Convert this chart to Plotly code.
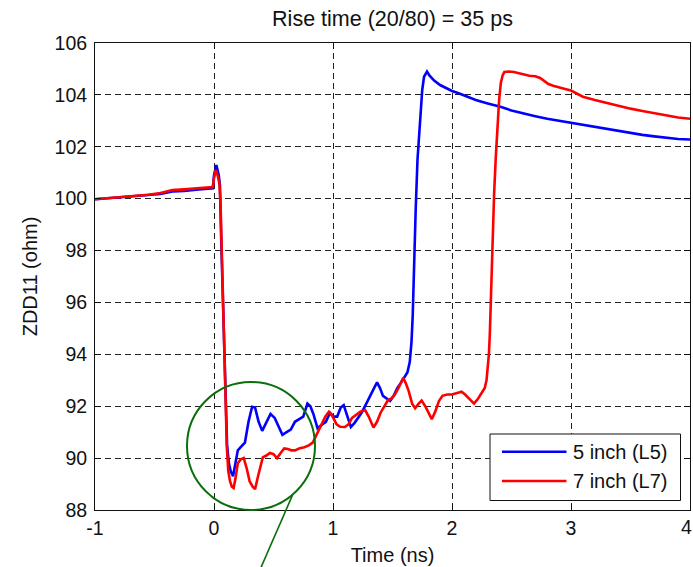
import plotly.graph_objects as go

# ---- data ----
t_l5 = [-1.0, -0.85, -0.7, -0.55, -0.45, -0.35, -0.25, -0.15, -0.05, -0.01, 0.0, 0.02, 0.04, 0.05,
        0.06, 0.075, 0.09, 0.1, 0.11, 0.125, 0.14, 0.16, 0.18, 0.2, 0.23, 0.26, 0.29, 0.32, 0.345,
        0.375, 0.405, 0.44, 0.475, 0.51, 0.545, 0.575, 0.61, 0.645, 0.68, 0.72, 0.75, 0.785, 0.81,
        0.835, 0.87, 0.91, 0.94, 0.975, 1.005, 1.035, 1.065, 1.09, 1.12, 1.15, 1.18, 1.21, 1.24,
        1.28, 1.31, 1.345, 1.37, 1.395, 1.42, 1.45, 1.48, 1.51, 1.54, 1.57, 1.6, 1.625, 1.645,
        1.66, 1.67, 1.68, 1.695, 1.71, 1.73, 1.75, 1.765, 1.79, 1.81, 1.85, 1.9, 1.95, 2.0, 2.05,
        2.1, 2.15, 2.2, 2.3, 2.4, 2.5, 2.6, 2.7, 2.8, 2.9, 3.0, 3.1, 3.2, 3.3, 3.4, 3.5, 3.6, 3.7,
        3.8, 3.9, 4.0]
z_l5 = [99.98, 100.03, 100.08, 100.12, 100.18, 100.28, 100.3, 100.35, 100.38, 100.4, 100.9, 101.3,
        100.9, 100.5, 98.5, 96.0, 93.5, 91.5, 90.5, 89.8, 89.5, 89.3, 89.8, 90.3, 90.45, 90.6,
        91.4, 91.98, 91.95, 91.4, 91.05, 91.4, 91.7, 91.55, 91.2, 90.9, 91.0, 91.1, 91.4, 91.5,
        91.6, 92.1, 92.0, 91.7, 91.15, 91.3, 91.4, 91.75, 91.6, 91.6, 91.95, 92.04, 91.6, 91.2,
        91.35, 91.55, 91.75, 92.1, 92.35, 92.7, 92.92, 92.7, 92.4, 92.3, 92.2, 92.4, 92.7, 92.9,
        93.1, 93.3, 93.7, 94.5, 95.5, 97.4, 99.6, 101.5, 103.0, 104.2, 104.7, 104.9, 104.75,
        104.55, 104.38, 104.25, 104.15, 104.07, 103.98, 103.88, 103.8, 103.67, 103.55, 103.4,
        103.28, 103.18, 103.08, 103.0, 102.93, 102.85, 102.77, 102.68, 102.6, 102.52, 102.46,
        102.4, 102.34, 102.3, 102.28]

t_l7 = [-1.0, -0.85, -0.7, -0.55, -0.45, -0.35, -0.25, -0.15, -0.05, -0.01, 0.0, 0.015, 0.03, 0.045,
        0.055, 0.067, 0.08, 0.095, 0.108, 0.12, 0.135, 0.15, 0.165, 0.18, 0.2, 0.225, 0.25, 0.275,
        0.3, 0.325, 0.345, 0.37, 0.39, 0.41, 0.44, 0.47, 0.5, 0.53, 0.56, 0.59, 0.62, 0.65, 0.68,
        0.72, 0.76, 0.8, 0.83, 0.86, 0.9, 0.935, 0.965, 0.995, 1.03, 1.06, 1.1, 1.13, 1.16, 1.2,
        1.23, 1.27, 1.3, 1.34, 1.37, 1.4, 1.43, 1.46, 1.49, 1.52, 1.55, 1.575, 1.59, 1.61, 1.635,
        1.665, 1.69, 1.72, 1.745, 1.775, 1.805, 1.83, 1.86, 1.89, 1.92, 1.96, 2.0, 2.04, 2.08,
        2.11, 2.15, 2.185, 2.22, 2.25, 2.275, 2.29, 2.3, 2.31, 2.318, 2.326, 2.34, 2.354, 2.368,
        2.382, 2.396, 2.41, 2.425, 2.44, 2.48, 2.52, 2.56, 2.6, 2.65, 2.7, 2.74, 2.78, 2.81, 2.85,
        2.9, 2.95, 3.0, 3.05, 3.1, 3.2, 3.3, 3.4, 3.5, 3.6, 3.7, 3.8, 3.9, 4.0]
z_l7 = [99.98, 100.03, 100.1, 100.15, 100.22, 100.33, 100.36, 100.4, 100.42, 100.45, 100.8, 101.1,
        100.9, 100.6, 99.8, 97.6, 95.4, 92.9, 90.4, 89.5, 89.1, 88.9, 88.85, 89.2, 89.8, 89.95,
        90.0, 89.6, 89.1, 88.9, 88.8, 89.3, 89.7, 90.03, 90.1, 90.2, 90.15, 90.0, 90.2, 90.37,
        90.35, 90.3, 90.3, 90.38, 90.42, 90.5, 90.6, 90.9, 91.3, 91.6, 91.78, 91.62, 91.3, 91.21,
        91.2, 91.3, 91.55, 91.7, 91.79, 91.85, 91.6, 91.18, 91.4, 91.75, 92.0, 92.22, 92.3, 92.45,
        92.7, 93.0, 93.1, 92.9, 92.6, 92.1, 91.92, 92.1, 92.22, 92.0, 91.7, 91.5, 91.8, 92.2, 92.4,
        92.45, 92.45, 92.5, 92.56, 92.45, 92.25, 92.1, 92.3, 92.55, 92.7, 93.0, 93.4, 94.0, 94.8,
        96.2, 98.2, 100.2, 101.6, 102.8, 103.8, 104.45, 104.75, 104.88, 104.9, 104.88, 104.84,
        104.78, 104.74, 104.72, 104.65, 104.52, 104.42, 104.35, 104.3, 104.23, 104.17, 104.05,
        103.93, 103.8, 103.68, 103.56, 103.47, 103.38, 103.3, 103.2, 103.13, 103.08]

series_names = ["5 inch (L5)", "7 inch (L7)"]
x_ticks = [-1, 0, 1, 2, 3, 4]
y_ticks = [88, 90, 92, 94, 96, 98, 100, 102, 104, 106]
title_text = "Rise time (20/80) = 35 ps"
x_title = "Time (ns)"
y_title = "ZDD11 (ohm)"

# ---- figure ----
FONT = "Arial, 'Liberation Sans', sans-serif"
INK = "#111111"
W, H = 693, 567
L, R, T, B = 95, 3, 43, 57
pw, ph = W - L - R, H - T - B


def px_x(p):
    return (p - L) / pw


def px_y(p):
    return 1 - (p - T) / ph


fig = go.Figure()
fig.add_trace(go.Scatter(x=t_l5, y=z_l5, mode="lines", name=series_names[0],
                         line=dict(color="#0000ff", width=2.6), showlegend=False))
fig.add_trace(go.Scatter(x=t_l7, y=z_l7, mode="lines", name=series_names[1],
                         line=dict(color="#ff0000", width=2.6), showlegend=False))

axis_common = dict(
    showline=True, linecolor=INK, linewidth=1, mirror="ticks",
    ticks="inside", ticklen=6, tickcolor=INK, tickwidth=1,
    showgrid=True, gridcolor="#222222", gridwidth=1, griddash="6px,4px",
    zeroline=False, tickfont=dict(family=FONT, size=19.5, color=INK),
)

# the last x tick label sits at the right edge of the figure; it is drawn
# as an annotation anchored at its right side so it stays fully visible
x_ticktext = [str(v) for v in x_ticks[:-1]] + [""]

fig.update_xaxes(range=[-1, 4], tickvals=x_ticks, ticktext=x_ticktext,
                 ticklabelstandoff=1,
                 title=dict(text=x_title, font=dict(family=FONT, size=20, color=INK), standoff=9),
                 **axis_common)
fig.update_yaxes(range=[88, 106], tickvals=y_ticks, ticktext=[str(v) for v in y_ticks],
                 ticklabelstandoff=3,
                 title=dict(text=y_title, font=dict(family=FONT, size=20, color=INK), standoff=11),
                 **axis_common)

shapes = []
annotations = []

annotations.append(dict(text=str(x_ticks[-1]), xref="x", yref="paper", x=x_ticks[-1], y=0,
                        xanchor="right", yanchor="top", xshift=4, yshift=-4, showarrow=False,
                        font=dict(family=FONT, size=19.5, color=INK)))

# green circle highlighting the ringing + pointer line
shapes.append(dict(type="circle", xref="paper", yref="paper",
                   x0=px_x(187), x1=px_x(315), y0=px_y(510), y1=px_y(382),
                   line=dict(color="#0a6e0a", width=2), layer="above"))
shapes.append(dict(type="line", xref="paper", yref="paper",
                   x0=px_x(293), y0=px_y(494), x1=px_x(259), y1=px_y(572),
                   line=dict(color="#0a6e0a", width=1.6), layer="above"))

# legend box
shapes.append(dict(type="rect", xref="paper", yref="paper",
                   x0=px_x(490), x1=px_x(680.5), y0=px_y(500.5), y1=px_y(434),
                   line=dict(color=INK, width=1), fillcolor="white", layer="above"))
for name, col, yy in [(series_names[0], "#0000ff", 451.7), (series_names[1], "#ff0000", 481)]:
    shapes.append(dict(type="line", xref="paper", yref="paper",
                       x0=px_x(502), x1=px_x(566.5), y0=px_y(yy), y1=px_y(yy),
                       line=dict(color=col, width=2.6), layer="above"))
    annotations.append(dict(text=name, xref="paper", yref="paper", x=px_x(571), y=px_y(yy),
                            xanchor="left", yanchor="middle", showarrow=False,
                            font=dict(family=FONT, size=20, color=INK)))

fig.update_layout(
    width=W, height=H,
    margin=dict(l=L, r=R, t=T, b=B, autoexpand=False),
    paper_bgcolor="white", plot_bgcolor="white",
    title=dict(text=title_text, x=0.5, xref="paper", y=1 - 18 / H, yref="container",
               xanchor="center", yanchor="middle",
               font=dict(family=FONT, size=21.5, color=INK)),
    shapes=shapes, annotations=annotations,
    showlegend=False,
)

fig.write_html("out.html")
